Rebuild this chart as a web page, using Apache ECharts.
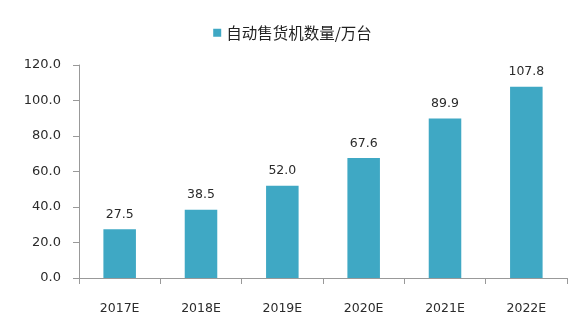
<!DOCTYPE html>
<html><head><meta charset="utf-8">
<script src="https://cdn.jsdelivr.net/npm/echarts@6/dist/echarts.min.js"></script>
<style>html,body{margin:0;padding:0;background:#fff}#c{width:585px;height:331px}</style>
</head><body><div id="c"></div>
<script>
const categories = ['2017E','2018E','2019E','2020E','2021E','2022E'];
const values = [27.5, 38.5, 52.0, 67.6, 89.9, 107.8];
const seriesName = '自动售货机数量/万台';
const chart = echarts.init(document.getElementById('c'));
chart.setOption({
  animation: false,
  legend: {
    data: [seriesName], top: 20, left: 'center', itemWidth: 8, itemHeight: 8, itemGap: 6,
    icon: 'rect',
    textStyle: {fontSize: 15.5, color: '#222', fontFamily: 'Noto Sans CJK SC'}
  },
  grid: {left: 79, right: 18, top: 65, bottom: 53},
  xAxis: {
    type: 'category', data: categories,
    axisLine: {lineStyle: {color: '#999'}},
    axisTick: {show: true, inside: false, length: 6, lineStyle: {color: '#999'}},
    axisLabel: {color: '#2b2b2b', fontSize: 12.5, margin: 24, fontFamily: 'DejaVu Sans'}
  },
  yAxis: {
    type: 'value', min: 0, max: 120, interval: 20,
    splitLine: {show: false},
    axisLine: {show: true, lineStyle: {color: '#999'}},
    axisTick: {show: true, length: 6, lineStyle: {color: '#999'}},
    axisLabel: {color: '#2b2b2b', fontSize: 13, margin: 18, fontFamily: 'DejaVu Sans',
      formatter: v => v.toFixed(1)}
  },
  series: [{
    name: seriesName, type: 'bar', data: values, barWidth: '40%',
    itemStyle: {color: '#3FA8C4'},
    label: {show: true, position: 'top', distance: 8, color: '#2b2b2b', fontSize: 12.5,
      fontFamily: 'DejaVu Sans', formatter: p => p.value.toFixed(1)}
  }]
});
</script></body></html>
